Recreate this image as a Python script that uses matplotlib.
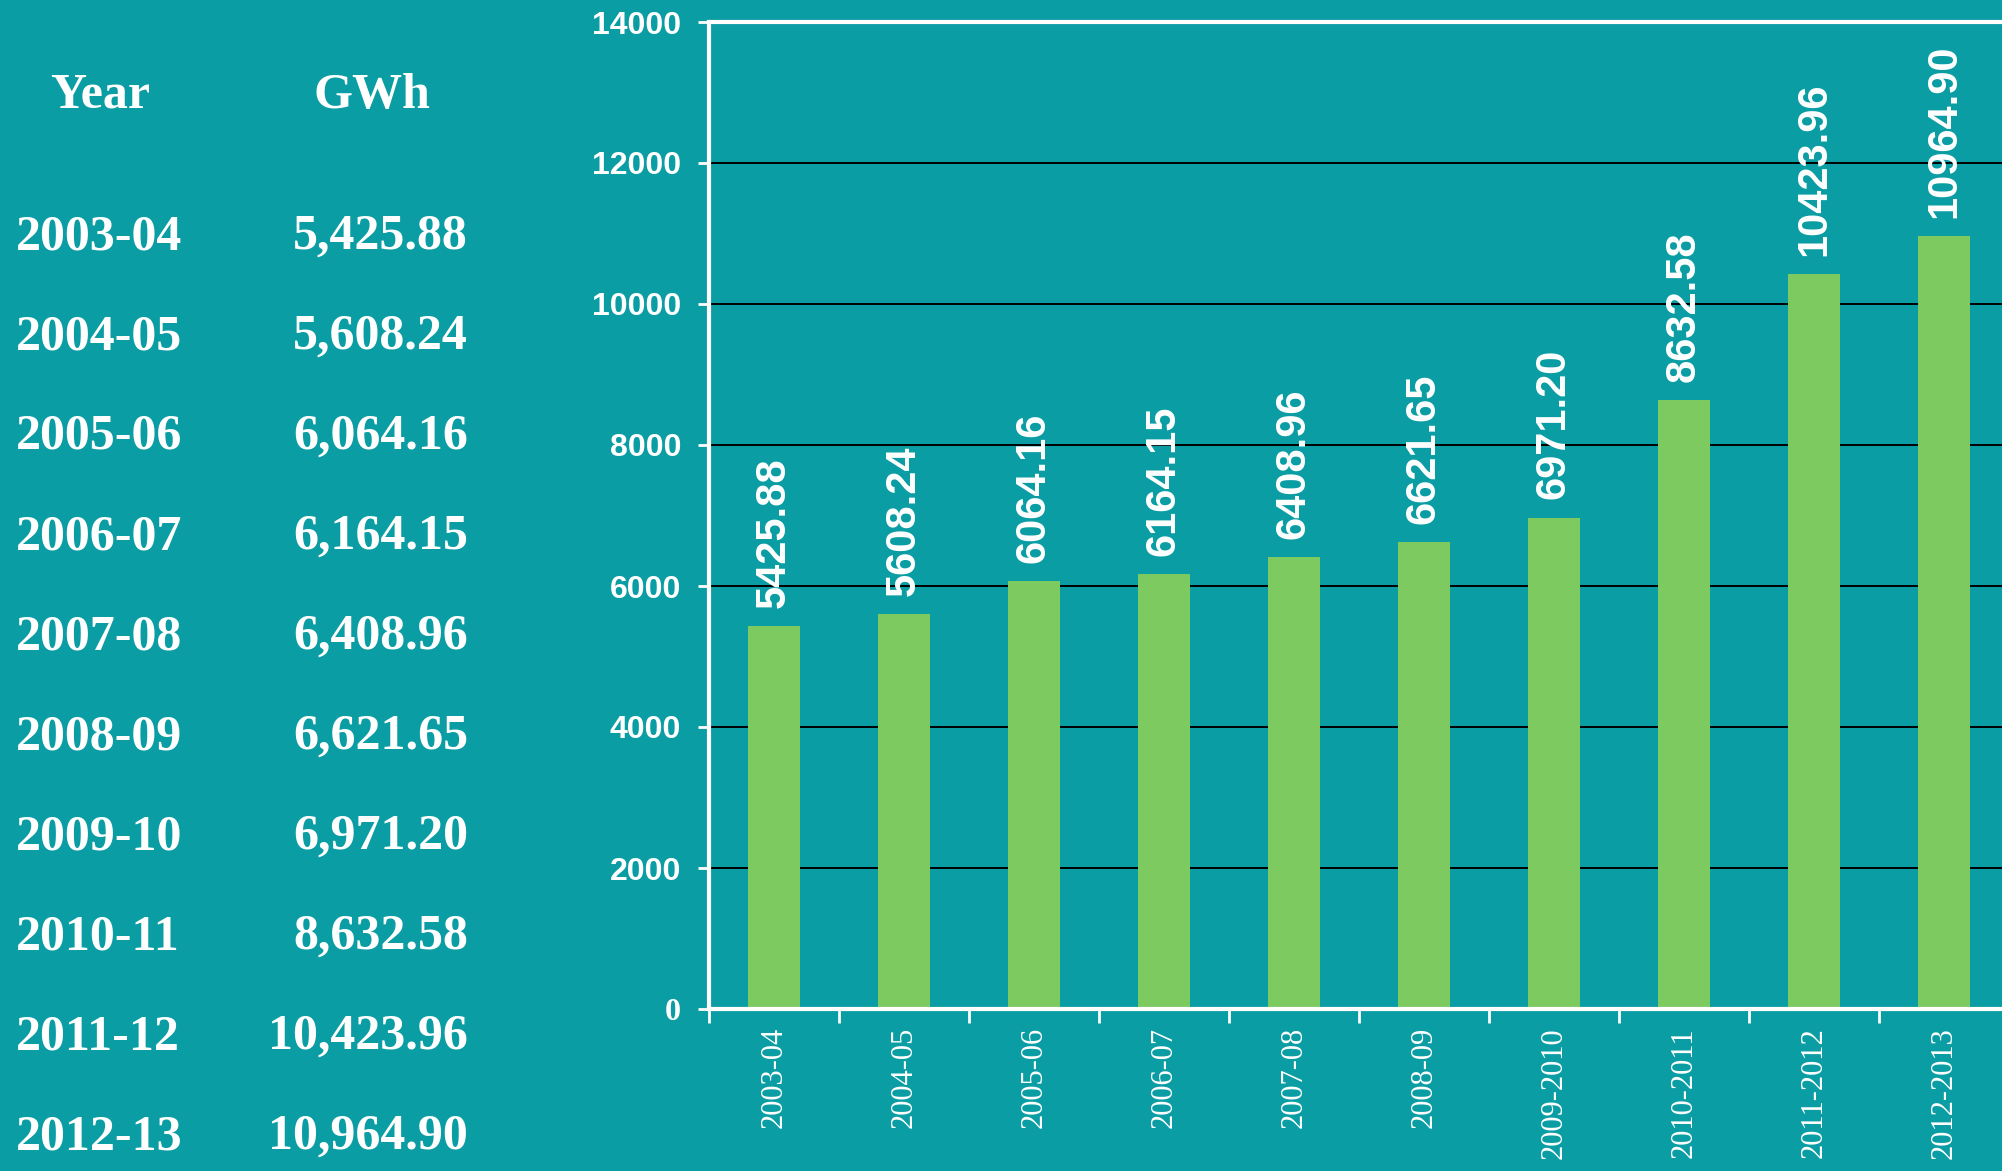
import matplotlib
matplotlib.use("Agg")
import matplotlib.pyplot as plt

years = ["2003-04", "2004-05", "2005-06", "2006-07", "2007-08",
         "2008-09", "2009-10", "2010-11", "2011-12", "2012-13"]
axis_labels = ["2003-04", "2004-05", "2005-06", "2006-07", "2007-08",
               "2008-09", "2009-2010", "2010-2011", "2011-2012", "2012-2013"]
gwh = [5425.88, 5608.24, 6064.16, 6164.15, 6408.96,
       6621.65, 6971.20, 8632.58, 10423.96, 10964.90]
y_ticks = [0, 2000, 4000, 6000, 8000, 10000, 12000, 14000]

bg = "#0a9da4"
bar_col = "#7dca61"
W, H = 2002, 1171

fig = plt.figure(figsize=(W / 100, H / 100), dpi=100, facecolor=bg)

# table on the left (pixel positions converted to figure fraction)
serif_bold = dict(family="Liberation Serif", weight="bold", color="white", fontsize=36)
fig.text(100 / W, 1 - 96 / H, "Year", ha="center", va="center", **serif_bold)
fig.text(372 / W, 1 - 96 / H, "GWh", ha="center", va="center", **serif_bold)
for i, (yr, v) in enumerate(zip(years, gwh)):
    ypix = 237 + i * 100
    fig.text(16 / W, 1 - ypix / H, yr, ha="left", va="center", **serif_bold)
    fig.text(468 / W, 1 - ypix / H, f"{v:,.2f}", ha="right", va="center", **serif_bold)

# bar chart
ax = fig.add_axes([709 / W, 162 / H, 1300 / W, 987 / H])
ax.set_facecolor(bg)
x = list(range(len(gwh)))
ax.bar(x, gwh, width=0.4, color=bar_col, zorder=3)
ax.set_xlim(-0.5, len(gwh) - 0.5)
ax.set_ylim(0, 14000)

ax.set_axisbelow(True)
ax.yaxis.grid(True, color="black", linewidth=1.4)

for s in ax.spines.values():
    s.set_color("white")
    s.set_linewidth(3)
    s.set_zorder(4)

ax.set_yticks(y_ticks)
ax.set_yticklabels([str(t) for t in y_ticks])
ax.tick_params(axis="y", colors="white", length=8, width=2, pad=12, labelsize=23)
for lab in ax.get_yticklabels():
    lab.set_fontweight("bold")
    lab.set_family("Liberation Sans")
ax.get_yticklabels()[0].set_family("Liberation Serif")

ax.set_xticks(x)
ax.set_xticklabels(axis_labels, rotation=90, family="Liberation Serif",
                   fontsize=22, color="white")
ax.tick_params(axis="x", which="major", length=0, pad=13)
ax.set_xticks([i - 0.5 for i in range(len(gwh) + 1)], minor=True)
ax.tick_params(axis="x", which="minor", length=10, width=2, color="white")

for xi, v in zip(x, gwh):
    ax.annotate(f"{v:.2f}", (xi, v), xytext=(0, 13), textcoords="offset points",
                rotation=90, ha="center", va="bottom", color="white",
                fontsize=30, fontweight="bold", family="Liberation Sans",
                annotation_clip=False)

fig.savefig("out.png", dpi=100, facecolor=bg)
